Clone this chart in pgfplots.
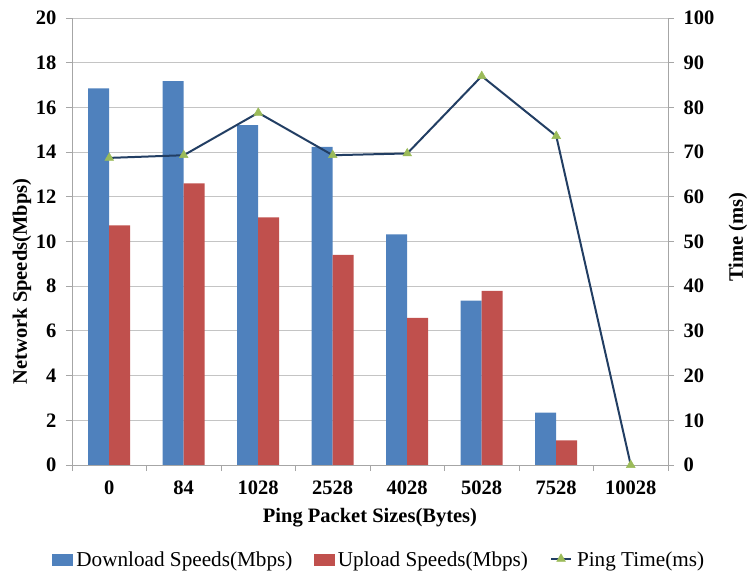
\documentclass[border=0pt]{standalone}
\usepackage{pgfplots}
\usepackage{pgfplotstable}
\pgfplotsset{compat=1.18}
\usepackage{fontspec}
\setmainfont{Liberation Serif}

\definecolor{dlblue}{HTML}{4F81BD}
\definecolor{ulred}{HTML}{C0504D}
\definecolor{pinggreen}{HTML}{9BBB59}
\definecolor{pingline}{HTML}{223E63}
\definecolor{gridgray}{HTML}{C4C4C4}
\definecolor{axisgray}{HTML}{A6A6A6}

% speeds in Mbps per packet size (idx = category position);
% no transfer was measured at 10028 bytes
\pgfplotstableread{
idx dl    ul
0   16.85 10.72
1   17.17 12.60
2   15.21 11.08
3   14.23  9.40
4   10.32  6.58
5    7.35  7.79
6    2.34  1.10
}\speeds

% ping time in ms per packet size
\pgfplotstableread{
idx ping
0   68.7
1   69.3
2   78.8
3   69.3
4   69.7
5   87.0
6   73.6
7    0
}\pingtimes

\newcommand\tickfont{\fontsize{20.5}{24}\selectfont\bfseries}
\newcommand\legfont{\fontsize{21.2}{25}\selectfont}

\tikzset{
  pingstyle/.style={draw=pingline, line width=2pt, mark=triangle*, mark size=5pt,
    mark options={fill=pinggreen, draw=pinggreen, line width=0.5pt}},
}

\begin{document}
\begin{tikzpicture}
\useasboundingbox (0,0) rectangle (748pt,571pt);

% speeds: clustered bars on the left axis
\begin{axis}[
  at={(72pt,106pt)}, anchor=south west,
  scale only axis, width=596pt, height=447pt,
  xmin=-0.5, xmax=7.5, ymin=0, ymax=20,
  ytick={0,2,...,20},
  axis x line*=bottom, axis y line*=left,
  axis line style={axisgray, line width=0.8pt},
  tick align=outside, major tick length=6pt,
  tick style={axisgray, line width=0.8pt},
  xtick={-0.5,0.5,...,7.5},
  xticklabels={{},{},{},{},{},{},{},{},{}},
  extra x ticks={0,...,7},
  extra x tick labels={0,84,1028,2528,4028,5028,7528,10028},
  extra x tick style={major tick length=0pt},
  xticklabel style={font=\tickfont, yshift=-12pt},
  yticklabel style={font=\tickfont, xshift=-6pt},
  /pgf/number format/assume math mode=true,
  ymajorgrids, grid style={gridgray, line width=0.8pt},
  ybar=0pt, bar width=21pt,
  xlabel={Ping Packet Sizes(Bytes)},
  xlabel style={at={(axis description cs:0.5,-0.1186)}, anchor=center, font=\tickfont},
  ylabel={Network Speeds(Mbps)},
  ylabel style={at={(axis description cs:-0.0839,0.4105)}, anchor=center, font=\tickfont},
]
\addplot[fill=dlblue, draw=none] table[x=idx, y=dl]{\speeds};
\addplot[fill=ulred, draw=none] table[x=idx, y=ul]{\speeds};
\end{axis}

% ping time: line on the right axis
\begin{axis}[
  at={(72pt,106pt)}, anchor=south west,
  scale only axis, width=596pt, height=447pt,
  xmin=-0.5, xmax=7.5, ymin=0, ymax=100,
  ytick={0,10,...,100},
  axis x line=none, axis y line*=right,
  axis line style={axisgray, line width=0.8pt},
  tick align=outside, major tick length=6pt,
  tick style={axisgray, line width=0.8pt},
  yticklabel style={font=\tickfont, xshift=6pt},
  /pgf/number format/assume math mode=true,
  ylabel={Time (ms)},
  ylabel style={at={(axis description cs:1.1174,0.510)}, anchor=center, font=\tickfont},
  legend columns=3,
  legend cell align=left,
  legend style={at={(axis description cs:-0.0336,-0.194)}, anchor=north west,
    draw=none, fill=none, inner sep=0pt, outer sep=0pt,
    column sep=0pt, row sep=0pt,
    nodes={inner sep=0pt}, font=\legfont},
]
\addlegendimage{legend image code/.code={\fill[dlblue] (0pt,-5pt) rectangle (20pt,5.7pt);}}
\addlegendentry{\hspace*{4pt}Download Speeds(Mbps)\hspace*{22pt}}
\addlegendimage{legend image code/.code={\fill[ulred] (0pt,-5pt) rectangle (20pt,5.7pt);}}
\addlegendentry{\hspace*{3pt}Upload Speeds(Mbps)\hspace*{22pt}}
\addplot[pingstyle,
  legend image code/.code={\draw[pingstyle, mark repeat=2, mark phase=2]
    plot coordinates {(0pt,1pt) (10pt,1pt) (20pt,1pt)};}]
  table[x=idx, y=ping]{\pingtimes};
\addlegendentry{\hspace*{5pt}Ping Time(ms)}
\end{axis}
\end{tikzpicture}
\end{document}
